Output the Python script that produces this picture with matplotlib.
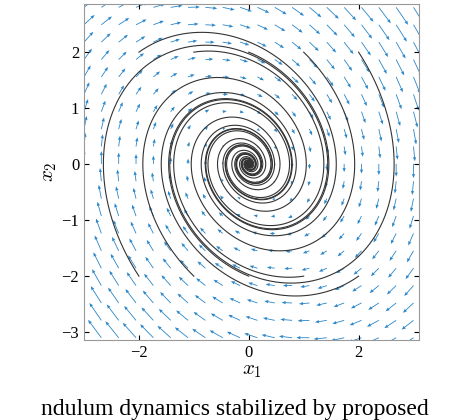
import matplotlib
matplotlib.use("Agg")
import matplotlib.pyplot as plt
import numpy as np

plt.rcParams["mathtext.fontset"] = "cm"
plt.rcParams["font.family"] = ["Liberation Serif", "DejaVu Serif"]

# closed-loop linear approximation: x1' = x2, x2' = -K1*x1 - K2*x2
K1 = 1.1
K2 = 0.4
starts_x1 = [-2, -1, 0, 1, 2, -2, -1, 0, 1, 2]
starts_x2 = [2, 2, 2, 2, 2, -2, -2, -2, -2, -2]
grid_x1 = np.linspace(-3.0, 3.0, 20)
grid_x2 = np.linspace(-3.1, 2.8, 20)


def field(a, b):
    return b, -K1 * a - K2 * b


def trajectory(a, b, dt=0.02, steps=2500):
    pts = [(a, b)]
    for _ in range(steps):
        k1 = field(a, b)
        k2 = field(a + dt / 2 * k1[0], b + dt / 2 * k1[1])
        k3 = field(a + dt / 2 * k2[0], b + dt / 2 * k2[1])
        k4 = field(a + dt * k3[0], b + dt * k3[1])
        a += dt / 6 * (k1[0] + 2 * k2[0] + 2 * k3[0] + k4[0])
        b += dt / 6 * (k1[1] + 2 * k2[1] + 2 * k3[1] + k4[1])
        pts.append((a, b))
    return np.array(pts)


fig = plt.figure(figsize=(4.56, 4.2), dpi=100)
ax = fig.add_axes([84 / 456, 80 / 420, 335 / 456, 336 / 420])

X, Y = np.meshgrid(grid_x1, grid_x2)
U, V = field(X, Y)
ax.quiver(X, Y, U, V, color="#2a86c8", scale_units="xy", scale=13,
          width=0.0025, headwidth=4, headlength=5, headaxislength=4.5)

for a, b in zip(starts_x1, starts_x2):
    p = trajectory(float(a), float(b))
    ax.plot(p[:, 0], p[:, 1], color="#333333", lw=0.8)

ax.set_xlim(-3.0, 3.1)
ax.set_ylim(-3.14, 2.86)
ax.set_xticks([-2, 0, 2])
ax.set_yticks([-3, -2, -1, 0, 1, 2])
ax.tick_params(direction="in", labelsize=12, top=True, right=True)
for s in ax.spines.values():
    s.set_color("#999999")
ax.set_xlabel(r"$x_1$", fontsize=15, labelpad=0)
ax.set_ylabel(r"$x_2$", fontsize=15, labelpad=2)

fig.text(0.515, 0.0, "ndulum dynamics stabilized by proposed", fontsize=17,
         ha="center", va="bottom")

fig.savefig("out.png", dpi=100)
